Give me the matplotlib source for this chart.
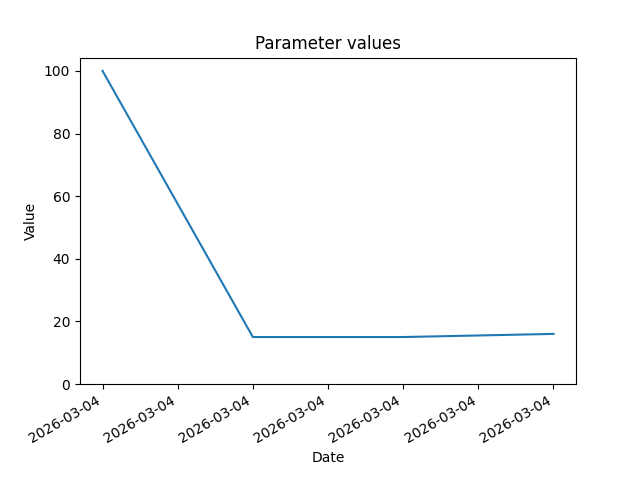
import datetime as dt
import matplotlib
matplotlib.use("Agg")
import matplotlib.pyplot as plt
import matplotlib.dates as mdates

# sampled every 10 minutes on the same day
times = [dt.datetime(2026, 3, 4, 10, 0),
         dt.datetime(2026, 3, 4, 10, 10),
         dt.datetime(2026, 3, 4, 10, 20),
         dt.datetime(2026, 3, 4, 10, 30)]
values = [100, 15, 15, 16]

fig, ax = plt.subplots(figsize=(6.4, 4.8), dpi=100)
ax.plot(times, values)
ax.xaxis.set_major_locator(mdates.MinuteLocator(byminute=range(0, 60, 5)))
ax.xaxis.set_major_formatter(mdates.DateFormatter("%Y-%m-%d"))
ax.set_ylim(bottom=0)
ax.set_title("Parameter values")
ax.set_xlabel("Date")
ax.set_ylabel("Value")
fig.autofmt_xdate()

fig.savefig("out.png")
